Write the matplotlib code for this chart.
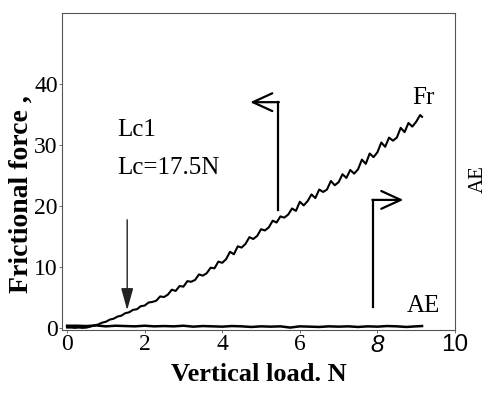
import matplotlib
matplotlib.use("Agg")
import matplotlib.pyplot as plt

# friction force trace
load = [0.0, 0.1, 0.2, 0.3, 0.4, 0.5, 0.6, 0.7, 0.8, 0.9,
        1.0, 1.1, 1.2, 1.3, 1.4, 1.5, 1.6, 1.7, 1.8, 1.9,
        2.0, 2.1, 2.2, 2.3, 2.4, 2.5, 2.6, 2.7, 2.8, 2.9,
        3.0, 3.1, 3.2, 3.3, 3.4, 3.5, 3.6, 3.7, 3.8, 3.9,
        4.0, 4.1, 4.2, 4.3, 4.4, 4.5, 4.6, 4.7, 4.8, 4.9,
        5.0, 5.1, 5.2, 5.3, 5.4, 5.5, 5.6, 5.7, 5.8, 5.9,
        6.0, 6.1, 6.2, 6.3, 6.4, 6.5, 6.6, 6.7, 6.8, 6.9,
        7.0, 7.1, 7.2, 7.3, 7.4, 7.5, 7.6, 7.7, 7.8, 7.9,
        8.0, 8.1, 8.2, 8.3, 8.4, 8.5, 8.6, 8.7, 8.8, 8.9,
        9.0, 9.1, 9.15]
fr = [0.1, 0.1, 0.05, 0.1, 0.05, 0.1, 0.25, 0.45, 0.6, 0.9,
      1.05, 1.4, 1.55, 1.9, 2.05, 2.45, 2.6, 3.0, 3.1, 3.6,
      3.7, 4.2, 4.3, 4.5, 5.2, 5.1, 5.5, 6.3, 6.1, 6.9,
      6.8, 7.7, 7.6, 7.9, 8.8, 8.6, 9.0, 9.9, 9.8, 10.9,
      10.7, 11.3, 12.5, 12.1, 13.4, 13.2, 13.8, 14.9, 14.6, 15.1,
      16.2, 16.0, 16.5, 17.6, 17.3, 18.3, 18.1, 18.6, 19.6, 19.2,
      20.7, 20.1, 20.8, 21.9, 21.3, 22.7, 22.3, 22.7, 24.1, 23.4,
      23.9, 25.2, 24.6, 25.9, 25.3, 26.0, 27.6, 26.9, 28.6, 28.0,
      28.8, 30.4, 29.7, 31.2, 30.7, 31.2, 32.8, 32.1, 33.6, 33.0,
      33.8, 34.9, 34.6]

# AE trace, stays near zero
ae_load = [0.0, 0.25, 0.5, 0.75, 1.0, 1.25, 1.5, 1.75, 2.0, 2.25,
           2.5, 2.75, 3.0, 3.25, 3.5, 3.75, 4.0, 4.25, 4.5, 4.75,
           5.0, 5.25, 5.5, 5.75, 6.0, 6.25, 6.5, 6.75, 7.0, 7.25,
           7.5, 7.75, 8.0, 8.25, 8.5, 8.75, 9.0, 9.15]
ae = [0.4, 0.4, 0.35, 0.45, 0.3, 0.4, 0.35, 0.3, 0.4, 0.3,
      0.35, 0.3, 0.4, 0.25, 0.35, 0.3, 0.25, 0.35, 0.3, 0.2,
      0.3, 0.25, 0.3, 0.1, 0.3, 0.25, 0.2, 0.3, 0.25, 0.3,
      0.2, 0.3, 0.25, 0.35, 0.3, 0.2, 0.3, 0.35]

xticks = [0, 2, 4, 6, 8, 10]
yticks = [0, 10, 20, 30, 40]

serif = "Liberation Serif"

fig = plt.figure(figsize=(4.91, 3.94), dpi=100)
ax = fig.add_axes([0.1263, 0.1624, 0.8004, 0.8046])

ax.plot(load, fr, color="black", lw=1.5)
ax.plot(ae_load, ae, color="black", lw=1.8)

ax.set_xlim(-0.13, 10)
ax.set_ylim(-0.3, 51.6)
ax.set_xticks(xticks)
ax.set_yticks(yticks)
ax.set_xticklabels([str(t) for t in xticks], fontfamily=serif, fontsize=17)
ax.set_yticklabels([str(t) for t in yticks], fontfamily=serif, fontsize=17)
for lab in ax.get_xticklabels()[4:]:
    lab.set_fontfamily("Liberation Sans")
    lab.set_fontsize(17.5)
ax.get_xticklabels()[4].set_fontstyle("italic")
ax.tick_params(length=2, width=0.6, pad=1, color="#555555")

for s in ax.spines.values():
    s.set_color("#555555")
    s.set_linewidth(0.8)

ax.set_xlabel("Vertical load. N", fontfamily=serif, fontweight="bold",
              fontsize=19, labelpad=4)
ax.set_ylabel("Frictional force ,", fontfamily=serif, fontweight="bold",
              fontsize=20)
ax.yaxis.set_label_coords(-0.072, 0.43)
fig.text(0.975, 0.545, "AE", rotation=90, fontfamily=serif, fontsize=15,
         ha="center", va="center")

ax.text(1.29, 32.5, "Lc1", fontfamily=serif, fontsize=18, va="center")
ax.text(1.29, 26.2, "Lc=17.5N", fontfamily=serif, fontsize=18, va="center")
ax.text(9.18, 37.7, "Fr", fontfamily=serif, fontsize=18, ha="center", va="center")
ax.text(9.18, 3.6, "AE", fontfamily=serif, fontsize=18, ha="center", va="center")

# Lc arrow
ax.annotate("", xy=(1.55, 2.5), xytext=(1.55, 18.2),
            arrowprops=dict(arrowstyle="-|>,head_length=0.9,head_width=0.25",
                            color="#222222", lw=1.0, mutation_scale=15))

# bent arrows pointing to the axes
ax.plot([5.44, 5.44], [19.3, 37.0], color="black", lw=1.6)
ax.annotate("", xy=(4.72, 37.0), xytext=(5.46, 37.0),
            arrowprops=dict(arrowstyle="->,head_length=0.7,head_width=0.32",
                            color="black", lw=1.6, mutation_scale=20,
                            shrinkA=0, shrinkB=0))
ax.plot([7.89, 7.89], [3.4, 21.0], color="black", lw=1.6)
ax.annotate("", xy=(8.67, 21.0), xytext=(7.87, 21.0),
            arrowprops=dict(arrowstyle="->,head_length=0.7,head_width=0.32",
                            color="black", lw=1.6, mutation_scale=20,
                            shrinkA=0, shrinkB=0))

fig.savefig("out.png", dpi=100)
